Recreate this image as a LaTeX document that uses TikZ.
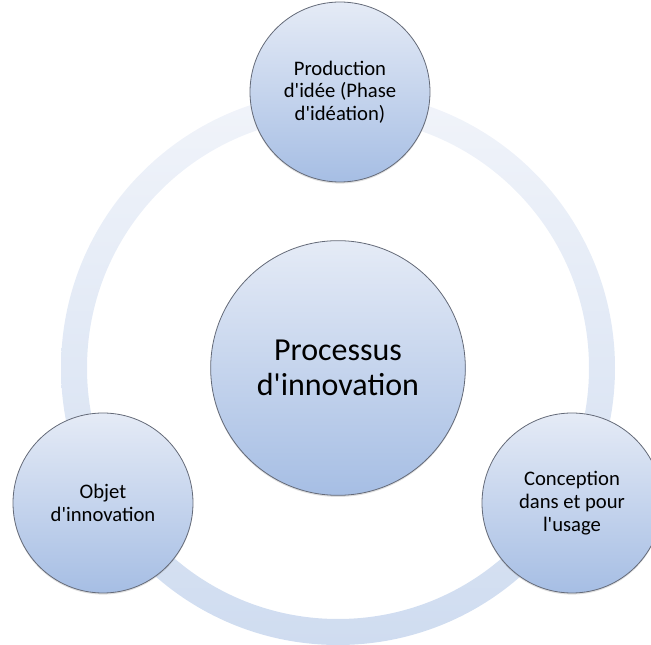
\documentclass[tikz,border=0pt]{standalone}
\usepackage{fontspec}
\setmainfont{Carlito}[Ligatures=TeXOff]
\usetikzlibrary{shadows}
\definecolor{ringhaut}{RGB}{241,244,250}
\definecolor{ringbas}{RGB}{207,220,240}
\definecolor{bullehaut}{RGB}{229,235,246}
\definecolor{bullebas}{RGB}{166,190,228}
\definecolor{bord}{RGB}{100,106,120}
\begin{document}
\begin{tikzpicture}[x=0.75pt, y=-0.75pt,
	bulle/.style={circle, draw=bord, line width=0.6pt, top color=bullehaut, bottom color=bullebas, minimum size=135pt, inner sep=0pt, align=center, font=\fontsize{15.5}{17}\selectfont, drop shadow={shadow xshift=0pt, shadow yshift=-1.2pt, opacity=0.25}}]
	\useasboundingbox (0,0) rectangle (651,645);
	\clip (0,0) rectangle (651,645);
	\shade[top color=ringhaut, bottom color=ringbas, even odd rule] (338,368) circle (207.75pt) (338,368) circle (188.25pt);
	\node[bulle, minimum size=191pt, font=\fontsize{24}{26}\selectfont] (proc) at (338,368) {Processus\\d'innovation};
	\node[bulle] (idee) at (340,92) {Production\\d'idée (Phase\\d'idéation)};
	\node[bulle] (objet) at (103,503) {Objet\\d'innovation};
	\node[bulle] (usage) at (572,503) {Conception\\dans et pour\\l'usage};
\end{tikzpicture}
\end{document}
